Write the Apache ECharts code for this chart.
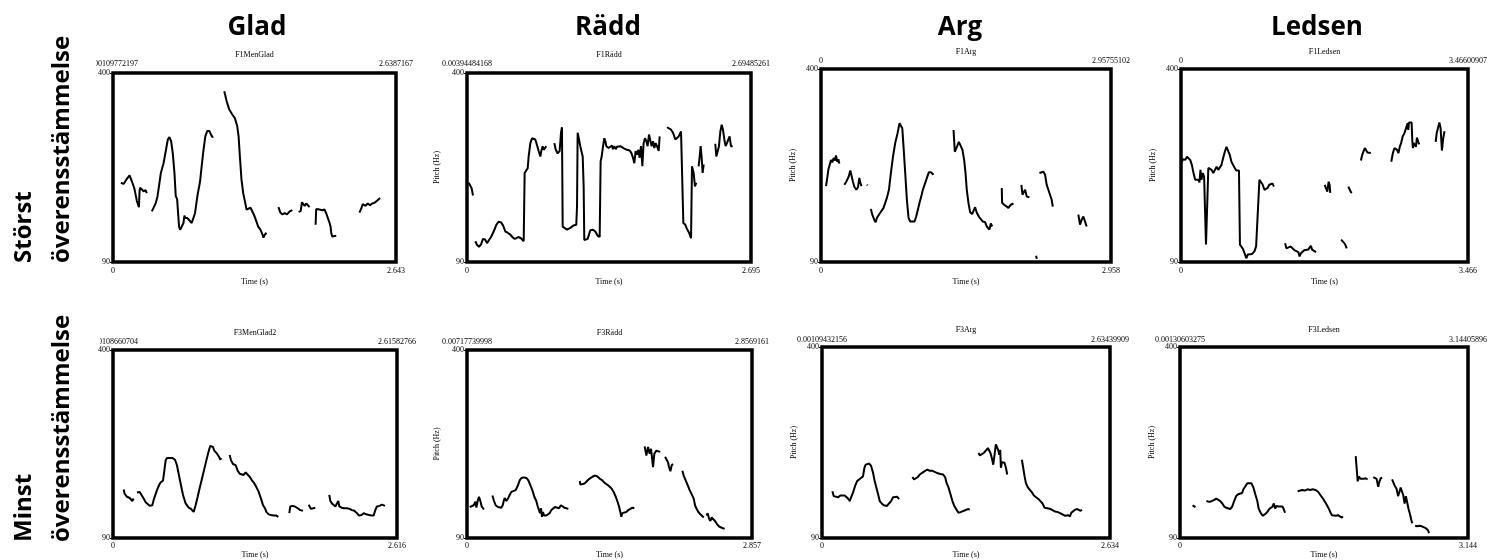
<!DOCTYPE html>
<html><head><meta charset="utf-8">
<script src="https://cdn.jsdelivr.net/npm/echarts@6/dist/echarts.min.js"></script>
<style>html,body{margin:0;padding:0;background:#fff}#c{width:1490px;height:560px}</style>
</head><body><div id="c"></div>
<script>
// ---------------- DATA ----------------
const columnHeaders = ['Glad', 'Rädd', 'Arg', 'Ledsen'];
const rowLabels = [['Störst', 'överensstämmelse'], ['Minst', 'överensstämmelse']];
const panelTitles = ['F1MenGlad', 'F1Rädd', 'F1Arg', 'F1Ledsen', 'F3MenGlad2', 'F3Rädd', 'F3Arg', 'F3Ledsen'];
const durations = [2.643, 2.695, 2.958, 3.466, 2.616, 2.857, 2.634, 3.144];
const bottomRightLabels = ['2.643', '2.695', '2.958', '3.466', '2.616', '2.857', '2.634', '3.144'];
const topLeftLabels = ['0.00109772197', '0.00394484168', '0', '0', '0.00108660704', '0.00717739998', '0.00109432156', '0.00130603275'];
const topRightLabels = ['2.6387167', '2.69485261', '2.95755102', '3.46600907', '2.61582766', '2.8569161', '2.63439909', '3.14405896'];
const pitchRange = [90, 400];
const pitchTickLabels = ['90', '400'];
const timeZeroLabel = '0';
const timeAxisName = 'Time (s)';
const pitchAxisName = 'Pitch (Hz)';

// pitch contours: [time (s), pitch (Hz)] per voiced segment
const gladStorst = [
  [[0.074,220],[0.099,218],[0.124,225],[0.155,232],[0.177,222],[0.199,211],[0.214,198],[0.223,190],[0.233,192],[0.242,180],[0.248,206],[0.254,212],[0.270,209],[0.285,206],[0.304,208],[0.316,203]],
  [[0.363,173],[0.378,175],[0.400,187],[0.416,198],[0.434,220],[0.447,236],[0.472,252],[0.493,272],[0.512,291],[0.527,295],[0.543,288],[0.558,269],[0.574,236],[0.586,198],[0.599,193],[0.608,170],[0.617,148],[0.627,143],[0.642,148],[0.658,154],[0.667,166],[0.676,162],[0.695,162],[0.713,159],[0.735,154],[0.751,157],[0.766,170],[0.788,198],[0.813,222],[0.828,247],[0.844,272],[0.862,296],[0.881,305],[0.900,305],[0.915,299],[0.927,295],[0.937,296]],
  [[1.039,370],[1.061,354],[1.086,340],[1.114,332],[1.138,326],[1.160,313],[1.173,296],[1.185,263],[1.200,225],[1.216,203],[1.235,187],[1.247,176],[1.263,177],[1.284,179],[1.300,176],[1.315,168],[1.334,159],[1.356,148],[1.377,143],[1.396,135],[1.405,130],[1.418,135],[1.433,138]],
  [[1.545,180],[1.563,171],[1.582,168],[1.604,170],[1.625,168],[1.650,173],[1.675,175]],
  [[1.734,172],[1.753,174],[1.765,188],[1.781,190],[1.790,182],[1.805,186],[1.821,184],[1.836,180]],
  [[1.892,151],[1.898,177],[1.914,175],[1.929,176],[1.954,175],[1.976,176],[1.991,170],[2.007,162],[2.023,154],[2.032,148],[2.038,138],[2.047,132],[2.063,134],[2.085,133]],
  [[2.302,171],[2.317,177],[2.333,185],[2.358,182],[2.379,186],[2.401,183],[2.420,186],[2.441,187],[2.463,190],[2.479,190],[2.494,195]]
];
const raddStorst = [
  [[0.016,220],[0.032,218],[0.044,211],[0.057,199]],
  [[0.079,124],[0.095,118],[0.114,115],[0.133,119],[0.152,128],[0.171,127],[0.190,121],[0.209,126],[0.228,131],[0.253,140],[0.278,151],[0.300,156],[0.323,155],[0.342,150],[0.364,140],[0.386,138],[0.411,135],[0.430,131],[0.449,128],[0.468,129],[0.487,131],[0.500,132],[0.512,129],[0.525,132],[0.538,124],[0.547,236],[0.563,239],[0.576,244],[0.585,263],[0.601,285],[0.617,293],[0.633,295],[0.648,291],[0.664,282],[0.680,272],[0.696,263],[0.705,272],[0.718,280],[0.727,274],[0.740,277],[0.753,280]],
  [[0.829,285],[0.841,275],[0.860,268],[0.879,272],[0.892,302],[0.901,311],[0.908,148],[0.924,146],[0.949,143],[0.981,146],[1.012,150],[1.037,151],[1.044,181],[1.050,302],[1.063,291],[1.075,280],[1.088,277],[1.098,263],[1.107,214],[1.113,126],[1.129,124],[1.145,128],[1.170,142],[1.196,143],[1.218,140],[1.240,133],[1.259,131],[1.268,255],[1.278,263],[1.291,280],[1.303,293],[1.313,288],[1.322,280],[1.335,282],[1.344,277],[1.360,280],[1.376,281],[1.385,275],[1.398,280],[1.411,275],[1.423,279],[1.439,277],[1.455,280],[1.471,277],[1.493,276],[1.518,274],[1.544,273],[1.559,269],[1.575,261],[1.588,252],[1.600,272],[1.613,266],[1.626,274],[1.638,261],[1.651,280],[1.664,247],[1.676,285],[1.689,293],[1.702,288],[1.714,280],[1.727,299],[1.740,296],[1.752,280],[1.765,288],[1.778,277],[1.790,285],[1.803,280],[1.819,272],[1.828,296]],
  [[1.898,311],[1.914,311],[1.936,307],[1.955,302],[1.977,291],[1.993,288],[2.009,296],[2.031,304],[2.046,307],[2.053,154],[2.072,151],[2.088,144],[2.107,138],[2.126,129],[2.135,247],[2.151,236],[2.163,214],[2.176,220]],
  [[2.198,247],[2.208,263],[2.217,280],[2.227,261],[2.236,236],[2.246,250]],
  [[2.356,284],[2.366,263],[2.379,266],[2.391,280],[2.404,304],[2.417,315],[2.429,307],[2.442,291],[2.454,280],[2.467,285],[2.480,291],[2.492,296],[2.505,280],[2.521,280]]
];
const argStorst = [
  [[0.051,212],[0.061,222],[0.075,238],[0.088,246],[0.102,254],[0.115,250],[0.129,257],[0.143,253],[0.153,261],[0.166,251],[0.177,255],[0.187,248]],
  [[0.238,214],[0.258,219],[0.282,227],[0.299,237],[0.312,235],[0.326,219],[0.340,211],[0.360,206],[0.377,210],[0.391,225],[0.401,217],[0.414,212]],
  [[0.469,214],[0.475,213]],
  [[0.509,175],[0.523,166],[0.543,158],[0.557,154],[0.571,161],[0.588,163],[0.604,169],[0.621,166],[0.638,177],[0.655,185],[0.672,193],[0.693,206],[0.713,233],[0.734,259],[0.757,281],[0.781,297],[0.801,313],[0.815,316],[0.829,305],[0.842,275],[0.859,233],[0.876,190],[0.893,161],[0.910,155],[0.930,157],[0.954,155],[0.971,163],[0.988,174],[1.005,185],[1.022,195],[1.039,206],[1.063,217],[1.080,225],[1.100,234],[1.121,234],[1.148,230]],
  [[1.352,302],[1.365,267],[1.386,275],[1.406,283],[1.426,281],[1.443,270],[1.460,254],[1.474,233],[1.487,206],[1.504,185],[1.521,170],[1.542,167],[1.555,170],[1.572,178],[1.589,169],[1.610,163],[1.630,161],[1.650,155],[1.674,154],[1.691,147],[1.708,146],[1.718,142],[1.732,152],[1.746,147]],
  [[1.844,209],[1.847,185],[1.868,182],[1.888,179],[1.912,177],[1.936,182],[1.963,184]],
  [[2.044,214],[2.055,198],[2.068,202],[2.082,206],[2.099,195],[2.126,194]],
  [[2.194,100],[2.201,95]],
  [[2.228,233],[2.245,234],[2.269,235],[2.286,230],[2.302,214],[2.319,206],[2.336,198],[2.353,190],[2.364,179]],
  [[2.625,166],[2.642,150],[2.659,158],[2.676,163],[2.693,155],[2.710,147]]
];
const ledsenStorst = [
  [[0.004,249],[0.024,255],[0.052,254],[0.072,259],[0.092,261],[0.111,254],[0.131,246],[0.151,233],[0.171,222],[0.191,219],[0.211,222],[0.223,218],[0.235,238],[0.247,222],[0.263,233],[0.279,227],[0.290,230],[0.302,118],[0.318,118],[0.330,241],[0.350,243],[0.370,238],[0.390,233],[0.410,230],[0.430,243],[0.450,238],[0.470,241],[0.489,246],[0.509,257],[0.529,267],[0.549,275],[0.569,273],[0.589,262],[0.609,251],[0.629,246],[0.649,241],[0.668,237],[0.688,235],[0.700,237],[0.712,118],[0.728,115],[0.748,111],[0.768,104],[0.788,96],[0.808,102],[0.828,103],[0.859,103],[0.887,107],[0.907,115],[0.927,112],[0.947,222],[0.967,218],[0.987,214],[1.007,206],[1.027,203],[1.046,209],[1.066,214],[1.086,217],[1.106,216],[1.122,211]],
  [[1.257,120],[1.273,112],[1.297,111],[1.325,115],[1.345,112],[1.369,109],[1.393,110],[1.417,106],[1.432,99],[1.448,104],[1.464,102],[1.488,109],[1.512,107],[1.536,110],[1.552,111],[1.568,116],[1.584,110],[1.608,109],[1.631,106]],
  [[1.735,214],[1.751,211],[1.767,203],[1.783,219],[1.795,214],[1.802,201]],
  [[1.934,126],[1.954,125],[1.974,120],[1.990,116],[2.001,112]],
  [[2.021,211],[2.041,209],[2.053,202],[2.065,201]],
  [[2.173,253],[2.188,262],[2.204,264],[2.220,273],[2.236,270],[2.252,266],[2.272,267],[2.292,265]],
  [[2.539,251],[2.559,265],[2.578,273],[2.594,275],[2.610,270],[2.626,265],[2.642,275],[2.658,281],[2.678,292],[2.698,297],[2.710,294],[2.722,300],[2.738,313],[2.745,302],[2.753,314],[2.769,313],[2.785,314],[2.793,286],[2.801,273],[2.809,281],[2.821,283],[2.837,275],[2.849,290],[2.865,283],[2.877,279]],
  [[3.076,283],[3.088,297],[3.104,300],[3.120,314],[3.135,305],[3.151,269],[3.167,289],[3.183,300]]
];
const gladMinst = [
  [[0.098,170],[0.107,163],[0.120,161],[0.129,158],[0.141,155],[0.154,156],[0.166,153],[0.178,151],[0.190,155]],
  [[0.221,165],[0.246,166],[0.264,163],[0.282,155],[0.301,149],[0.319,147],[0.338,143],[0.350,140],[0.362,144],[0.375,153],[0.390,161],[0.405,169],[0.424,177],[0.436,181],[0.448,178],[0.461,185],[0.473,201],[0.485,218],[0.497,222],[0.522,222],[0.546,222],[0.571,219],[0.589,210],[0.608,193],[0.626,177],[0.645,161],[0.669,147],[0.697,140],[0.718,138],[0.743,133],[0.761,144],[0.780,158],[0.798,172],[0.820,188],[0.841,204],[0.860,218],[0.878,231],[0.896,242],[0.909,244],[0.921,240],[0.933,234],[0.946,236],[0.958,229],[0.970,230],[0.979,223],[0.989,219],[0.995,222]],
  [[1.075,227],[1.087,218],[1.096,221],[1.105,212],[1.117,214],[1.130,210],[1.148,201],[1.167,196],[1.185,198],[1.203,194],[1.222,198],[1.240,196],[1.259,191],[1.280,185],[1.302,180],[1.320,174],[1.342,166],[1.363,155],[1.382,144],[1.400,139],[1.412,133],[1.434,129],[1.455,128],[1.480,127],[1.504,127],[1.523,125]],
  [[1.624,131],[1.633,142],[1.652,143],[1.676,142],[1.701,139],[1.725,136],[1.750,135]],
  [[1.802,145],[1.811,142],[1.824,138],[1.842,139],[1.863,140]],
  [[1.992,161],[2.002,151],[2.017,147],[2.032,144],[2.048,142],[2.063,144],[2.075,151],[2.085,142],[2.106,140],[2.131,139],[2.155,139],[2.180,138],[2.201,136],[2.223,135],[2.247,131],[2.266,127],[2.278,124],[2.290,128],[2.309,131],[2.333,129],[2.358,128],[2.382,127],[2.401,127],[2.416,136],[2.431,142],[2.456,143],[2.477,145],[2.493,147],[2.505,143]]
];
const raddMinst = [
  [[0.027,141],[0.043,143],[0.067,144],[0.084,150],[0.094,140],[0.107,151],[0.120,158],[0.134,151],[0.147,142],[0.160,139],[0.170,137]],
  [[0.254,160],[0.271,151],[0.287,144],[0.311,141],[0.328,143],[0.344,140],[0.358,144],[0.368,151],[0.378,156],[0.394,151],[0.411,155],[0.428,161],[0.444,166],[0.461,163],[0.488,169],[0.511,177],[0.528,185],[0.545,189],[0.568,190],[0.595,189],[0.615,185],[0.635,177],[0.655,169],[0.675,158],[0.695,151],[0.709,142],[0.722,139],[0.732,131],[0.742,139],[0.752,125],[0.762,133],[0.772,127],[0.785,129],[0.795,127],[0.812,130],[0.829,131],[0.846,136],[0.862,139],[0.882,141],[0.902,140],[0.922,139],[0.942,144],[0.956,141],[0.976,140],[0.996,139],[1.016,138]],
  [[1.130,184],[1.136,178],[1.156,176],[1.180,180],[1.203,184],[1.230,188],[1.257,191],[1.280,193],[1.303,192],[1.330,188],[1.357,185],[1.380,181],[1.414,177],[1.447,172],[1.470,166],[1.491,158],[1.511,149],[1.524,142],[1.537,133],[1.547,125],[1.557,131],[1.577,132],[1.597,133],[1.618,136],[1.638,136],[1.658,140],[1.678,139]],
  [[1.781,241],[1.798,226],[1.815,240],[1.831,229],[1.845,237],[1.865,207],[1.878,229],[1.898,234],[1.918,231],[1.938,232]],
  [[1.985,224],[1.999,221],[2.015,215],[2.025,207],[2.039,200],[2.052,210],[2.065,212]],
  [[2.159,201],[2.172,193],[2.192,185],[2.212,177],[2.232,169],[2.253,162],[2.273,155],[2.286,144],[2.299,139],[2.319,133],[2.339,129],[2.359,126],[2.373,124]],
  [[2.400,127],[2.413,131],[2.426,122],[2.440,118],[2.453,124],[2.466,122],[2.486,118],[2.506,113],[2.527,109],[2.547,107],[2.567,106],[2.583,105]]
];
const argMinst = [
  [[0.095,166],[0.107,158],[0.125,157],[0.146,156],[0.168,159],[0.186,161],[0.208,159],[0.223,158],[0.238,154],[0.253,150],[0.269,153],[0.284,164],[0.302,174],[0.320,182],[0.339,185],[0.357,185],[0.375,190],[0.388,204],[0.400,209],[0.415,212],[0.430,211],[0.449,207],[0.467,196],[0.482,182],[0.497,172],[0.513,161],[0.528,150],[0.546,146],[0.565,143],[0.583,141],[0.595,142],[0.613,146],[0.632,150],[0.650,156],[0.668,158],[0.687,157],[0.705,153]],
  [[0.827,189],[0.842,185],[0.858,183],[0.876,189],[0.894,193],[0.919,196],[0.943,199],[0.964,201],[0.986,199],[1.010,199],[1.035,197],[1.059,195],[1.083,194],[1.108,193],[1.126,189],[1.138,180],[1.157,172],[1.175,161],[1.193,150],[1.212,141],[1.230,136],[1.248,131],[1.267,132],[1.285,134],[1.309,135],[1.334,137],[1.352,136]],
  [[1.431,228],[1.444,224],[1.462,222],[1.480,228],[1.499,232],[1.517,236],[1.529,235],[1.541,228],[1.553,220],[1.566,209],[1.578,225],[1.590,242],[1.602,244],[1.611,233],[1.621,225],[1.630,233],[1.636,204],[1.645,213],[1.657,214],[1.669,212],[1.682,204],[1.694,193]],
  [[1.828,217],[1.840,204],[1.853,190],[1.865,179],[1.883,172],[1.901,168],[1.920,164],[1.938,159],[1.956,156],[1.981,153],[1.999,152],[2.017,146],[2.036,139],[2.054,136],[2.072,138],[2.091,137],[2.109,134],[2.133,133],[2.158,132],[2.182,130],[2.200,127],[2.225,126],[2.249,127],[2.268,125],[2.280,131],[2.298,134],[2.316,136],[2.335,137],[2.353,138],[2.365,134],[2.377,136]]
];
const ledsenMinst = [
  [[0.137,143],[0.151,141],[0.169,140]],
  [[0.288,150],[0.310,149],[0.332,149],[0.353,149],[0.375,152],[0.397,154],[0.418,153],[0.440,150],[0.462,146],[0.483,141],[0.505,139],[0.526,138],[0.548,137],[0.570,141],[0.591,150],[0.613,158],[0.635,161],[0.656,162],[0.678,163],[0.692,169],[0.714,174],[0.736,179],[0.757,181],[0.779,179],[0.801,172],[0.822,161],[0.844,150],[0.858,138],[0.880,131],[0.902,126],[0.916,125],[0.930,129],[0.952,132],[0.974,137],[0.995,136],[1.010,141],[1.024,146],[1.039,138],[1.053,142],[1.075,141],[1.096,143],[1.118,141],[1.132,137],[1.147,131]],
  [[1.284,166],[1.305,165],[1.334,168],[1.363,167],[1.392,169],[1.421,168],[1.450,169],[1.478,168],[1.507,165],[1.536,159],[1.565,153],[1.594,146],[1.623,138],[1.644,131],[1.659,127],[1.680,129],[1.702,126],[1.724,127],[1.745,125],[1.767,123],[1.778,125]],
  [[1.918,223],[1.929,220],[1.940,182],[1.954,190],[1.969,186],[1.983,189],[2.005,186],[2.027,187],[2.048,185]],
  [[2.110,189],[2.128,186],[2.146,186],[2.164,173],[2.178,182],[2.192,187],[2.207,188]],
  [[2.315,185],[2.329,182],[2.344,175],[2.366,169],[2.380,158],[2.394,164],[2.409,172],[2.423,175],[2.438,159],[2.452,146],[2.466,158],[2.481,156],[2.495,137],[2.510,129],[2.524,120],[2.535,114]],
  [[2.567,110],[2.589,109],[2.614,110],[2.640,109],[2.661,107],[2.683,106],[2.705,103],[2.719,98]]
];
const panels = [gladStorst, raddStorst, argStorst, ledsenStorst, gladMinst, raddMinst, argMinst, ledsenMinst];

// ---------------- LAYOUT ----------------
const boxes = [
  {left:113, top:73, width:283, height:189, topMargin:5, titleGap:12, botMargin:5, timeGap:16, pitchGap:26},
  {left:467, top:73, width:284, height:189, topMargin:5, titleGap:12, botMargin:5, timeGap:16, pitchGap:26},
  {left:821, top:69, width:290, height:193, topMargin:4, titleGap:13, botMargin:5, timeGap:16, pitchGap:24},
  {left:1181, top:69, width:290, height:193, topMargin:4, titleGap:13, botMargin:5, timeGap:16, pitchGap:24},
  {left:113, top:350, width:284, height:190, topMargin:4, titleGap:13, botMargin:4, timeGap:13, pitchGap:26},
  {left:467, top:350, width:285, height:190, topMargin:4, titleGap:13, botMargin:4, timeGap:13, pitchGap:26},
  {left:822, top:347, width:288, height:192, topMargin:3, titleGap:13, botMargin:4, timeGap:13, pitchGap:24},
  {left:1180, top:347, width:291, height:192, topMargin:3, titleGap:13, botMargin:4, timeGap:13, pitchGap:24}
];
const headerX = [257, 608, 960, 1317];
const rowBottoms = [263, 542];
const serif = '"Liberation Serif", "Times New Roman", serif';
const small = {fontFamily: serif, fontSize: 8, color: '#000'};

const grid = [], xAxis = [], yAxis = [], series = [];
panels.forEach((segs, i) => {
  const b = boxes[i];
  const T = durations[i];
  grid.push({left:b.left, top:b.top, width:b.width, height:b.height, show:true,
    borderColor:'#000', borderWidth:3.5, backgroundColor:'transparent'});
  xAxis.push({gridIndex:i, type:'value', position:'bottom', min:0, max:T,
    axisLine:{show:false}, axisTick:{show:false}, splitLine:{show:false},
    axisLabel:Object.assign({customValues:[0, T], showMinLabel:true, showMaxLabel:true, margin:b.botMargin,
      formatter: v => (v === 0 ? timeZeroLabel : (Math.abs(v - T) < 1e-9 ? bottomRightLabels[i] : ''))}, small),
    name: timeAxisName, nameLocation:'middle', nameGap:b.timeGap, nameTextStyle: small});
  xAxis.push({gridIndex:i, type:'value', position:'top', min:0, max:T,
    axisLine:{show:false}, axisTick:{show:false}, splitLine:{show:false},
    axisLabel:Object.assign({customValues:[0, T], showMinLabel:true, showMaxLabel:true, margin:b.topMargin,
      formatter: v => (v === 0 ? topLeftLabels[i] : (Math.abs(v - T) < 1e-9 ? topRightLabels[i] : ''))}, small),
    name: panelTitles[i], nameLocation:'middle', nameGap:b.titleGap, nameTextStyle: small});
  yAxis.push({gridIndex:i, type:'value', min:pitchRange[0], max:pitchRange[1],
    axisLine:{show:false}, splitLine:{show:false},
    axisTick:{show:true, customValues:pitchRange.slice(), length:3, lineStyle:{color:'#000', width:1}},
    axisLabel:Object.assign({customValues:pitchRange.slice(), showMinLabel:true, showMaxLabel:true, margin:3,
      formatter: v => (v === pitchRange[0] ? pitchTickLabels[0] : (v === pitchRange[1] ? pitchTickLabels[1] : ''))}, small),
    name: (i % 4 === 0) ? '' : pitchAxisName, nameLocation:'middle', nameGap:b.pitchGap, nameTextStyle: small});
  segs.forEach(seg => series.push({type:'line', xAxisIndex:2*i, yAxisIndex:i, data:seg,
    symbol:'none', showSymbol:false, silent:true, lineStyle:{color:'#000', width:2}}));
});

const headFont = 'bold 26px "Open Sans", "Liberation Sans", sans-serif';
const rowFont = 'bold 24px "Open Sans", "Liberation Sans", sans-serif';
const graphic = [];
columnHeaders.forEach((t, k) => graphic.push({type:'text', x:headerX[k], y:28, z:50,
  style:{text:t, font:headFont, fill:'#000', align:'center', verticalAlign:'middle'}}));
rowLabels.forEach((pair, r) => {
  graphic.push({type:'text', x:24, y:rowBottoms[r], rotation:Math.PI/2, z:50,
    style:{text:pair[0], font:rowFont, fill:'#000', align:'left', verticalAlign:'middle'}});
  graphic.push({type:'text', x:62, y:rowBottoms[r], rotation:Math.PI/2, z:50,
    style:{text:pair[1], font:rowFont, fill:'#000', align:'left', verticalAlign:'middle'}});
});
// crop masks (the source pictures were cropped through the Glad top-left labels)
graphic.push({type:'rect', z:100, shape:{x:78, y:56, width:18, height:13}, style:{fill:'#fff'}});
graphic.push({type:'rect', z:100, shape:{x:78, y:333, width:22, height:12}, style:{fill:'#fff'}});

const chart = echarts.init(document.getElementById('c'), null, {renderer:'canvas'});
chart.setOption({animation:false, backgroundColor:'#fff', grid, xAxis, yAxis, series, graphic});
</script></body></html>
